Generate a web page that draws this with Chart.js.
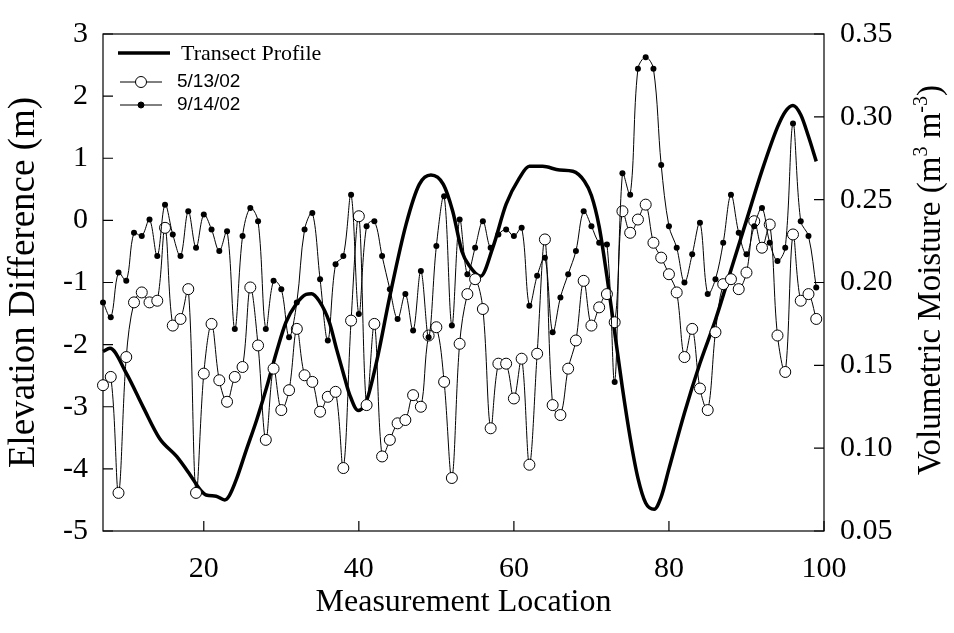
<!DOCTYPE html>
<html>
<head>
<meta charset="utf-8">
<script src="https://cdn.jsdelivr.net/npm/chart.js@4.4.0/dist/chart.umd.min.js"></script>
<style>
  html, body { margin: 0; padding: 0; background: #fff; }
  #wrap { width: 954px; height: 633px; position: relative; }
</style>
</head>
<body>
<div id="wrap"><canvas id="chart"></canvas></div>
<script>
// Measurement locations along the transect
const locations = [
  7, 8, 9, 10, 11, 12, 13, 14, 15, 16, 17, 18, 19, 20, 21, 22, 23, 24, 25, 26,
  27, 28, 29, 30, 31, 32, 33, 34, 35, 36, 37, 38, 39, 40, 41, 42, 43, 44, 45, 46,
  47, 48, 49, 50, 51, 52, 53, 54, 55, 56, 57, 58, 59, 60, 61, 62, 63, 64, 65, 66,
  67, 68, 69, 70, 71, 72, 73, 74, 75, 76, 77, 78, 79, 80, 81, 82, 83, 84, 85, 86,
  87, 88, 89, 90, 91, 92, 93, 94, 95, 96, 97, 98, 99
];

// Volumetric moisture (m3 m-3), 5/13/02
const moistureMay = [
  0.138, 0.143, 0.073, 0.155, 0.188, 0.194, 0.188, 0.189, 0.233, 0.174,
  0.178, 0.196, 0.073, 0.145, 0.175, 0.141, 0.128, 0.143, 0.149, 0.197,
  0.162, 0.105, 0.148, 0.123, 0.135, 0.172, 0.144, 0.140, 0.122, 0.131,
  0.134, 0.088, 0.177, 0.240, 0.126, 0.175, 0.095, 0.105, 0.115, 0.117,
  0.132, 0.125, 0.168, 0.173, 0.140, 0.082, 0.163, 0.193, 0.202, 0.184,
  0.112, 0.151, 0.151, 0.130, 0.154, 0.090, 0.157, 0.226, 0.126, 0.120,
  0.148, 0.165, 0.201,
  0.174, 0.185, 0.193, 0.176, 0.243, 0.230, 0.238, 0.247, 0.224, 0.215,
  0.205, 0.194, 0.155, 0.172, 0.136, 0.123, 0.170, 0.199, 0.202, 0.196,
  0.206, 0.237, 0.221, 0.235, 0.168, 0.146, 0.229, 0.189, 0.193, 0.178
];

// Volumetric moisture (m3 m-3), 9/14/02
const moistureSep = [
  0.188, 0.179, 0.206, 0.201, 0.230, 0.228, 0.238, 0.216, 0.247, 0.229,
  0.216, 0.243, 0.221, 0.241, 0.232, 0.219, 0.231, 0.172, 0.228, 0.245,
  0.237, 0.172, 0.201, 0.196, 0.167, 0.188, 0.232, 0.242, 0.202, 0.165,
  0.211, 0.216, 0.253, 0.181, 0.234, 0.237, 0.216, 0.196, 0.178, 0.193,
  0.171, 0.207, 0.167, 0.222, 0.252, 0.174, 0.238, 0.205, 0.221, 0.237,
  0.221, 0.229, 0.232, 0.228, 0.233, 0.186, 0.204, 0.215, 0.170, 0.191,
  0.205, 0.219, 0.243,
  0.234, 0.224, 0.223, 0.140, 0.266, 0.253, 0.329, 0.336, 0.329, 0.271,
  0.234, 0.221, 0.200, 0.217, 0.236, 0.193, 0.202, 0.224, 0.253, 0.230,
  0.217, 0.234, 0.245, 0.224, 0.213, 0.221, 0.296, 0.237, 0.228, 0.197
];

// Transect elevation profile (m)
const transectX = [
  7, 7.9, 10, 12.2, 14.3, 16.5, 18.2, 19.5, 20.3, 21.6, 22.7, 23.3, 24.2, 25.5,
  26.8, 28.1, 29.4, 30.6, 31.9, 33.2, 33.9, 34.9, 36.2, 37.1, 38.2, 38.8, 39.9,
  41, 42.3, 44, 46.1, 47.8, 49.3, 50.9, 52.1, 53.3, 54.3, 55.7, 57.3, 59, 60.7,
  62, 63.7, 65.9, 67.6, 69.1, 70, 71, 72, 73, 74, 75, 76, 77, 78.1, 79, 80, 82,
  84, 86, 88, 90, 92, 94, 95, 96, 97, 98, 99
];
const transectElev = [
  -2.11, -2.06, -2.46, -3.01, -3.51, -3.80, -4.09, -4.33, -4.42, -4.44, -4.50, -4.43, -4.17, -3.69,
  -3.22, -2.69, -2.11, -1.64, -1.35, -1.19, -1.18, -1.30, -1.64, -2.06, -2.55, -2.80, -3.06,
  -2.90, -2.27, -1.22, -0.06, 0.58, 0.73, 0.58, 0.15, -0.50, -0.74, -0.90, -0.43, 0.26, 0.68,
  0.87, 0.87, 0.81, 0.79, 0.63, 0.40, -0.10, -0.90, -1.80, -2.70, -3.50, -4.15, -4.55, -4.65, -4.45, -4.00, -3.10,
  -2.30, -1.60, -0.80, 0.00, 0.80, 1.50, 1.75, 1.85, 1.70, 1.35, 0.95
];

// Tick labels
const xTicks = [20, 40, 60, 80, 100];
const elevTicks = [-5, -4, -3, -2, -1, 0, 1, 2, 3];
const moistTicks = [0.05, 0.10, 0.15, 0.20, 0.25, 0.30, 0.35];

const SERIF = "'Liberation Serif', 'Times New Roman', serif";
const SANS = "'Liberation Sans', Arial, sans-serif";
const TICK_LEN = 10;

Chart.defaults.font.family = SERIF;
Chart.defaults.color = '#000';

// Box around the plot and inward tick marks
const framePlugin = {
  id: 'frame',
  beforeDatasetsDraw(chart) {
    const { ctx, chartArea: a, scales } = chart;
    ctx.save();
    ctx.strokeStyle = '#000';
    ctx.lineWidth = 1.2;
    ctx.strokeRect(a.left, a.top, a.right - a.left, a.bottom - a.top);
    ctx.beginPath();
    scales.x.ticks.forEach(t => {
      const px = scales.x.getPixelForValue(t.value);
      ctx.moveTo(px, a.bottom);
      ctx.lineTo(px, a.bottom - TICK_LEN);
    });
    scales.y.ticks.forEach(t => {
      const py = scales.y.getPixelForValue(t.value);
      ctx.moveTo(a.left, py);
      ctx.lineTo(a.left + TICK_LEN, py);
    });
    scales.y1.ticks.forEach(t => {
      const py = scales.y1.getPixelForValue(t.value);
      ctx.moveTo(a.right, py);
      ctx.lineTo(a.right - TICK_LEN, py);
    });
    ctx.stroke();
    ctx.restore();
  },
  afterDraw(chart) {
    const { ctx, data } = chart;
    const ds = data.datasets;
    ctx.save();

    // legend
    ctx.textBaseline = 'middle';
    ctx.textAlign = 'left';
    ctx.strokeStyle = '#000';
    ctx.lineWidth = ds[0].borderWidth;
    ctx.beginPath();
    ctx.moveTo(118, 53);
    ctx.lineTo(170, 53);
    ctx.stroke();
    ctx.font = '22px ' + SERIF;
    ctx.fillStyle = '#000';
    ctx.fillText(ds[0].label, 181, 54);

    [[ds[1], 82], [ds[2], 105]].forEach(([d, y]) => {
      ctx.lineWidth = 1;
      ctx.beginPath();
      ctx.moveTo(120, y);
      ctx.lineTo(162, y);
      ctx.stroke();
      ctx.beginPath();
      ctx.arc(141, y, d.pointRadius, 0, Math.PI * 2);
      ctx.fillStyle = d.pointBackgroundColor;
      ctx.fill();
      ctx.stroke();
      ctx.fillStyle = '#000';
      ctx.font = '19px ' + SANS;
      ctx.fillText(d.label, 177, y);
    });

    // right axis title with superscripts, reading upward
    ctx.translate(929, 280);
    ctx.rotate(-Math.PI / 2);
    const parts = [
      ['Volumetric Moisture (m', false],
      ['3', true],
      [' m', false],
      ['-3', true],
      [')', false]
    ];
    const big = '33px ' + SERIF;
    const small = '20px ' + SERIF;
    let total = 0;
    parts.forEach(([s, sup]) => {
      ctx.font = sup ? small : big;
      total += ctx.measureText(s).width;
    });
    let x = -total / 2;
    ctx.textBaseline = 'alphabetic';
    parts.forEach(([s, sup]) => {
      ctx.font = sup ? small : big;
      ctx.fillText(s, x, sup ? -2 : 11);
      x += ctx.measureText(s).width;
    });
    ctx.restore();
  }
};

const ctx = document.getElementById('chart').getContext('2d');
new Chart(ctx, {
  type: 'line',
  data: {
    datasets: [
      {
        label: 'Transect Profile',
        data: transectX.map((x, i) => ({ x: x, y: transectElev[i] })),
        yAxisID: 'y',
        borderColor: '#000',
        borderWidth: 3.5,
        pointRadius: 0,
        cubicInterpolationMode: 'monotone',
        fill: false,
        clip: false,
        order: 2
      },
      {
        label: '5/13/02',
        data: locations.map((x, i) => ({ x: x, y: moistureMay[i] })),
        yAxisID: 'y1',
        borderColor: '#000',
        borderWidth: 1,
        tension: 0.35,
        pointRadius: 5.5,
        pointBackgroundColor: '#fff',
        pointBorderColor: '#000',
        pointBorderWidth: 1,
        fill: false,
        clip: false,
        order: 1
      },
      {
        label: '9/14/02',
        data: locations.map((x, i) => ({ x: x, y: moistureSep[i] })),
        yAxisID: 'y1',
        borderColor: '#000',
        borderWidth: 1,
        tension: 0.35,
        pointRadius: 3,
        pointBackgroundColor: '#000',
        pointBorderColor: '#000',
        pointBorderWidth: 0,
        fill: false,
        clip: false,
        order: 0
      }
    ]
  },
  options: {
    responsive: true,
    maintainAspectRatio: false,
    devicePixelRatio: 1,
    animation: false,
    layout: { padding: { top: 25, left: 0, right: 0, bottom: 0 } },
    plugins: {
      legend: { display: false },
      tooltip: { enabled: false }
    },
    scales: {
      x: {
        type: 'linear',
        position: 'bottom',
        min: 7,
        max: 100,
        afterBuildTicks: scale => { scale.ticks = xTicks.map(v => ({ value: v })); },
        afterFit: scale => { scale.height = 102; },
        grid: { display: false, drawTicks: false },
        border: { display: false },
        ticks: { font: { size: 30 }, padding: 20, maxRotation: 0, autoSkip: false },
        title: {
          display: true,
          text: 'Measurement Location',
          font: { size: 32 },
          padding: { top: 0, bottom: 11 }
        }
      },
      y: {
        type: 'linear',
        position: 'left',
        min: -5,
        max: 3,
        afterBuildTicks: scale => { scale.ticks = elevTicks.map(v => ({ value: v })); },
        afterFit: scale => { scale.width = 103; },
        grid: { display: false, drawTicks: false },
        border: { display: false },
        ticks: { font: { size: 30 }, padding: 15 },
        title: {
          display: true,
          text: 'Elevation Difference (m)',
          font: { size: 37 },
          padding: { top: 2, bottom: 0 }
        }
      },
      y1: {
        type: 'linear',
        position: 'right',
        min: 0.05,
        max: 0.35,
        afterBuildTicks: scale => { scale.ticks = moistTicks.map(v => ({ value: v })); },
        afterFit: scale => { scale.width = 130; },
        grid: { display: false, drawTicks: false },
        border: { display: false },
        ticks: {
          font: { size: 30 },
          padding: 16,
          callback: v => v.toFixed(2)
        },
        title: { display: false }
      }
    }
  },
  plugins: [framePlugin]
});
</script>
</body>
</html>
